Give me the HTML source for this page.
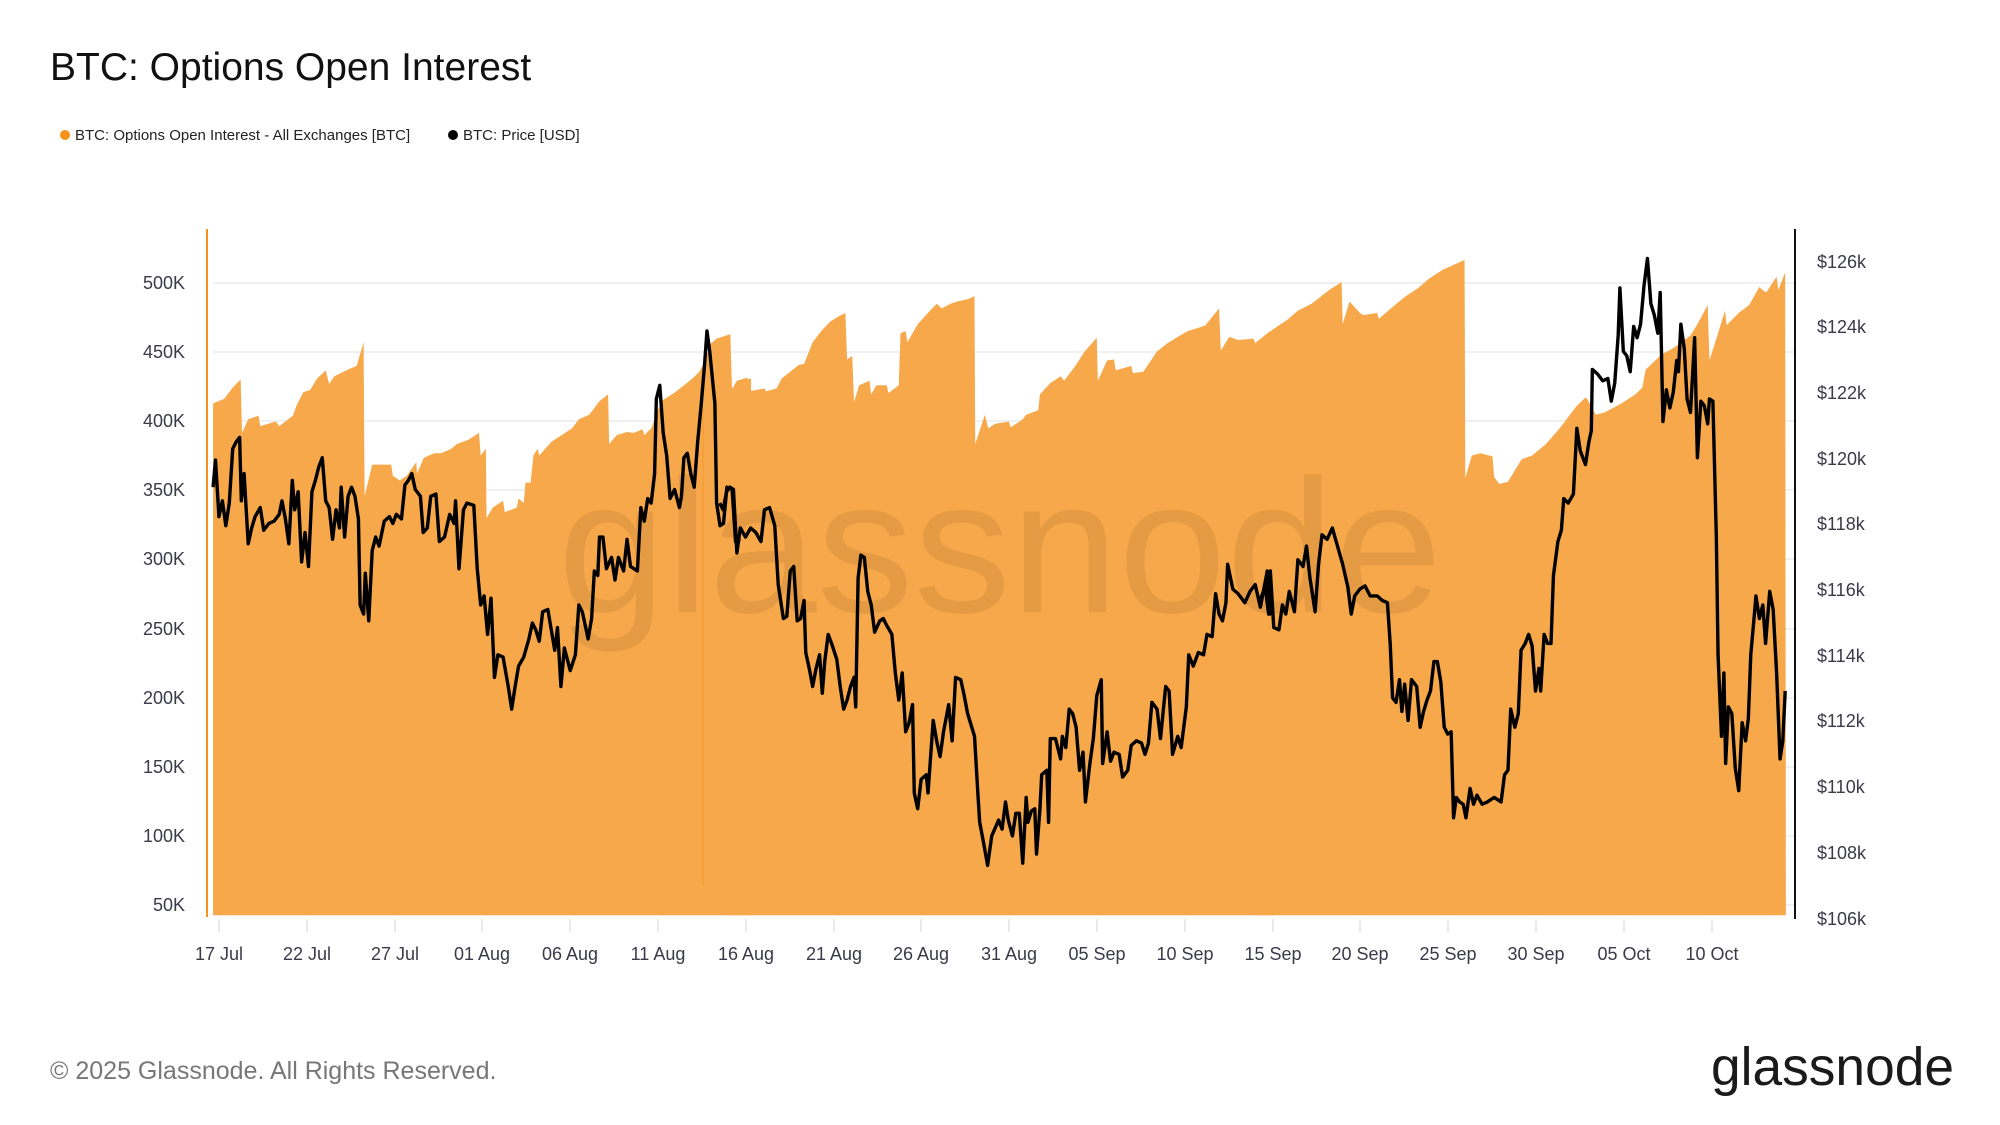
<!DOCTYPE html>
<html><head><meta charset="utf-8"><style>
html,body{margin:0;padding:0;background:#fff;}
svg{display:block;font-family:"Liberation Sans",sans-serif;}
</style></head><body>
<svg width="2000" height="1125" viewBox="0 0 2000 1125" xmlns="http://www.w3.org/2000/svg">
<text x="50" y="80" font-size="39" fill="#111">BTC: Options Open Interest</text>
<circle cx="65" cy="135" r="5" fill="#f7931a"/>
<text x="75" y="140" font-size="15" fill="#222">BTC: Options Open Interest - All Exchanges [BTC]</text>
<circle cx="453" cy="135" r="5" fill="#000"/>
<text x="463" y="140" font-size="15" fill="#222">BTC: Price [USD]</text>

<g stroke="#ececec" stroke-width="1.5">
<line x1="213" x2="1795" y1="283" y2="283"/><line x1="213" x2="1795" y1="352" y2="352"/><line x1="213" x2="1795" y1="421" y2="421"/><line x1="213" x2="1795" y1="490" y2="490"/><line x1="213" x2="1795" y1="559" y2="559"/><line x1="213" x2="1795" y1="629" y2="629"/><line x1="213" x2="1795" y1="698" y2="698"/><line x1="213" x2="1795" y1="767" y2="767"/><line x1="213" x2="1795" y1="836" y2="836"/><line x1="213" x2="1795" y1="905" y2="905"/>
</g>

<g fill="#f7a84a" stroke="none">
<path transform="translate(200,220) scale(0.3444,0.4529)" d="M38,1535 L38,405 70,395 95,370 118,352 122,470 140,440 170,432 175,455 220,445 230,455 270,432 280,410 300,380 320,375 340,350 365,332 375,362 390,345 430,330 455,322 475,270 478,610 500,540 525,540 555,540 560,565 580,575 600,565 628,535 630,560 650,525 680,515 700,515 730,505 745,495 780,485 810,470 815,520 830,505 832,658 850,635 880,620 885,645 920,635 925,615 940,625 945,580 960,580 968,520 980,505 985,520 1020,490 1060,470 1080,460 1100,440 1130,430 1140,420 1160,400 1185,385 1188,495 1210,475 1240,468 1260,470 1285,462 1290,475 1310,460 1340,400 1380,380 1430,350 1450,335 1470,305 1480,275 1500,262 1540,252 1545,380 1568,355 1600,350 1600,1535 Z"/>
<path transform="translate(730,220) scale(0.3444,0.4529)" d="M-8,1535 L-8,375 0,380 20,355 50,348 55,378 100,372 105,378 135,372 150,350 200,320 215,318 240,270 265,245 290,225 310,215 335,205 340,308 355,300 360,402 375,365 405,355 410,385 425,365 455,365 460,382 490,365 495,250 510,245 515,270 545,230 575,205 600,185 615,195 640,185 660,180 690,175 710,168 712,495 740,430 750,460 770,450 810,445 815,458 850,440 860,430 895,420 900,385 930,360 960,345 970,355 1000,325 1030,290 1065,260 1068,355 1095,310 1115,308 1120,332 1165,322 1170,338 1200,335 1240,290 1270,272 1300,258 1330,245 1360,238 1380,233 1420,195 1425,288 1450,258 1475,265 1520,262 1525,272 1568,245 1580,262 1580,1535 Z"/>
<path transform="translate(1260,220) scale(0.3444,0.4529)" d="M-10,1535 L-10,268 0,265 40,240 80,220 110,200 150,185 200,155 237,137 240,230 260,180 290,205 300,210 340,205 345,218 380,195 420,170 460,150 490,130 530,110 560,100 594,88 596,570 615,520 640,515 675,522 680,568 695,583 720,578 760,528 790,520 830,495 870,460 890,440 920,410 945,392 950,395 975,430 1000,425 1050,405 1090,385 1110,370 1120,330 1155,305 1170,295 1195,285 1215,275 1250,255 1270,230 1300,188 1305,310 1330,250 1350,200 1355,232 1390,205 1420,188 1450,148 1460,155 1470,160 1500,125 1505,155 1525,115 1527,1535 Z"/>
</g>
<line x1="703" y1="410" x2="703" y2="885" stroke="#f59a2a" stroke-width="1"/>

<text x="558" y="612" font-size="190" textLength="884" lengthAdjust="spacingAndGlyphs" fill="rgba(110,70,30,0.13)">glassnode</text>

<g fill="none" stroke="#000" stroke-width="3.4" stroke-linejoin="round">
<path vector-effect="non-scaling-stroke" transform="translate(200,220) scale(0.3444,0.4529)" d="M38,590 45,530 55,655 65,620 75,675 85,625 95,505 105,490 115,480 120,620 128,560 140,715 150,680 160,655 175,635 185,685 200,670 215,665 230,650 238,620 248,660 258,715 268,575 275,640 285,600 295,755 305,690 315,765 325,600 335,575 345,545 355,525 365,620 375,635 385,705 395,640 405,680 410,590 420,700 430,610 440,590 450,610 460,660 465,850 475,870 480,780 490,885 500,730 510,700 520,720 535,665 550,655 560,670 570,650 585,660 595,585 605,575 615,560 625,595 640,610 648,690 660,680 670,610 685,605 695,710 710,700 725,650 738,670 742,620 752,770 765,640 775,625 795,630 805,770 815,850 825,830 835,915 845,835 855,1010 865,960 880,965 895,1030 905,1080 915,1030 925,985 940,965 955,925 965,890 975,905 985,930 995,865 1010,860 1020,905 1030,950 1038,900 1048,1030 1058,945 1075,995 1090,960 1100,850 1110,865 1127,925 1137,880 1145,775 1155,785 1160,700 1170,700 1180,770 1195,745 1205,795 1215,745 1230,775 1240,705 1250,765 1270,775 1280,635 1290,665 1300,615 1310,625 1320,560 1325,395 1335,365 1345,470 1355,520 1365,615 1378,595 1392,635 1398,610 1405,525 1415,515 1425,560 1435,590 1445,490 1455,410 1465,320 1472,245 1480,290 1495,405 1500,625 1510,675 1520,670 1530,590 1545,595 1555,710 1568,705 1568,705"/>
<path vector-effect="non-scaling-stroke" transform="translate(730,220) scale(0.3444,0.4529)" d="M-30,625 -20,640 -10,600 0,590 10,595 20,735 30,680 45,700 60,680 75,690 90,710 100,640 115,635 130,675 140,805 155,880 165,875 175,775 185,765 195,885 205,880 215,840 220,955 230,990 240,1030 250,990 260,960 268,1045 275,975 285,915 295,935 310,970 320,1030 330,1080 340,1060 350,1030 360,1010 365,1075 372,790 380,740 390,745 400,820 410,850 420,910 435,885 445,880 455,895 470,915 480,1000 490,1060 500,1000 510,1130 520,1110 530,1070 535,1265 545,1300 555,1235 570,1225 575,1265 590,1105 600,1150 610,1185 620,1130 635,1070 645,1150 655,1010 670,1015 680,1050 690,1090 710,1140 720,1270 725,1330 735,1370 748,1425 760,1360 780,1325 790,1345 800,1285 808,1325 820,1360 830,1310 840,1310 850,1420 860,1275 865,1330 875,1305 885,1300 890,1400 900,1300 905,1225 920,1215 925,1330 930,1145 945,1145 960,1190 965,1140 975,1165 985,1080 995,1090 1005,1120 1015,1215 1025,1175 1032,1285 1045,1200 1055,1145 1065,1050 1078,1015 1082,1200 1095,1130 1105,1195 1115,1175 1130,1180 1140,1230 1155,1215 1165,1160 1180,1150 1195,1155 1205,1180 1215,1155 1225,1065 1240,1080 1250,1145 1265,1030 1275,1040 1285,1180 1300,1140 1310,1165 1325,1075 1332,960 1345,985 1360,955 1375,960 1385,915 1400,920 1410,825 1420,870 1430,885 1440,845 1445,760 1460,815 1475,825 1495,845 1510,820 1525,805 1540,855 1560,775 1568,870 1574,840"/>
<path vector-effect="non-scaling-stroke" transform="translate(1260,220) scale(0.3444,0.4529)" d="M0,840 15,810 25,870 30,775 40,900 55,905 65,850 75,870 85,820 100,865 110,750 125,765 135,720 145,790 160,865 170,760 180,695 195,705 210,680 225,720 240,760 255,810 265,870 275,830 290,815 305,808 320,830 340,830 355,840 370,845 378,935 385,1055 395,1065 405,1015 412,1085 420,1025 430,1105 440,1015 455,1030 465,1120 475,1085 485,1060 495,1040 505,975 515,975 525,1020 535,1120 545,1135 555,1130 562,1320 570,1275 580,1285 590,1290 598,1320 610,1255 620,1290 630,1270 645,1290 660,1285 680,1275 700,1285 710,1225 720,1215 728,1080 740,1120 750,1090 758,950 770,935 780,915 790,940 800,1040 810,990 815,1040 825,915 835,935 845,935 852,785 865,710 875,685 882,615 895,625 910,605 920,460 930,510 945,540 955,490 962,465 965,330 980,340 995,355 1010,350 1020,400 1030,360 1040,255 1045,150 1055,290 1065,300 1075,335 1085,235 1095,260 1105,230 1115,145 1125,85 1135,185 1145,210 1155,250 1162,160 1170,445 1180,375 1190,415 1200,380 1210,310 1215,335 1222,230 1232,285 1240,395 1250,425 1262,260 1270,525 1280,400 1290,410 1300,450 1305,395 1315,400 1325,700 1330,960 1340,1140 1347,1000 1352,1200 1360,1075 1370,1090 1380,1210 1390,1260 1400,1110 1410,1150 1418,1100 1425,960 1435,875 1440,830 1450,880 1460,850 1468,935 1480,820 1490,860 1500,1000 1510,1190 1518,1150 1525,1040"/>
</g>

<line x1="207" y1="229" x2="207" y2="917" stroke="#f7931a" stroke-width="2"/>
<line x1="1795" y1="229" x2="1795" y2="919" stroke="#111" stroke-width="2"/>

<g font-size="18" fill="#3a3a48" text-anchor="end">
<text x="185" y="289">500K</text><text x="185" y="358">450K</text><text x="185" y="427">400K</text><text x="185" y="496">350K</text><text x="185" y="565">300K</text><text x="185" y="635">250K</text><text x="185" y="704">200K</text><text x="185" y="773">150K</text><text x="185" y="842">100K</text><text x="185" y="911">50K</text>
</g>
<g font-size="18" fill="#3a3a48">
<text x="1817" y="268">$126k</text><text x="1817" y="333">$124k</text><text x="1817" y="399">$122k</text><text x="1817" y="465">$120k</text><text x="1817" y="530">$118k</text><text x="1817" y="596">$116k</text><text x="1817" y="662">$114k</text><text x="1817" y="727">$112k</text><text x="1817" y="793">$110k</text><text x="1817" y="859">$108k</text><text x="1817" y="925">$106k</text>
</g>
<g stroke="#e2e2e2" stroke-width="1.5">
<line x1="219" x2="219" y1="919" y2="932"/><line x1="307" x2="307" y1="919" y2="932"/><line x1="395" x2="395" y1="919" y2="932"/><line x1="482" x2="482" y1="919" y2="932"/><line x1="570" x2="570" y1="919" y2="932"/><line x1="658" x2="658" y1="919" y2="932"/><line x1="746" x2="746" y1="919" y2="932"/><line x1="834" x2="834" y1="919" y2="932"/><line x1="921" x2="921" y1="919" y2="932"/><line x1="1009" x2="1009" y1="919" y2="932"/><line x1="1097" x2="1097" y1="919" y2="932"/><line x1="1185" x2="1185" y1="919" y2="932"/><line x1="1273" x2="1273" y1="919" y2="932"/><line x1="1360" x2="1360" y1="919" y2="932"/><line x1="1448" x2="1448" y1="919" y2="932"/><line x1="1536" x2="1536" y1="919" y2="932"/><line x1="1624" x2="1624" y1="919" y2="932"/><line x1="1712" x2="1712" y1="919" y2="932"/>
</g>
<g font-size="18" fill="#3a3a48" text-anchor="middle">
<text x="219" y="960">17 Jul</text><text x="307" y="960">22 Jul</text><text x="395" y="960">27 Jul</text><text x="482" y="960">01 Aug</text><text x="570" y="960">06 Aug</text><text x="658" y="960">11 Aug</text><text x="746" y="960">16 Aug</text><text x="834" y="960">21 Aug</text><text x="921" y="960">26 Aug</text><text x="1009" y="960">31 Aug</text><text x="1097" y="960">05 Sep</text><text x="1185" y="960">10 Sep</text><text x="1273" y="960">15 Sep</text><text x="1360" y="960">20 Sep</text><text x="1448" y="960">25 Sep</text><text x="1536" y="960">30 Sep</text><text x="1624" y="960">05 Oct</text><text x="1712" y="960">10 Oct</text>
</g>

<text x="50" y="1079" font-size="25" fill="#777">© 2025 Glassnode. All Rights Reserved.</text>
<text x="1711" y="1085" font-size="54" fill="#1a1a1a" textLength="243" lengthAdjust="spacingAndGlyphs">glassnode</text>
</svg>
</body></html>
